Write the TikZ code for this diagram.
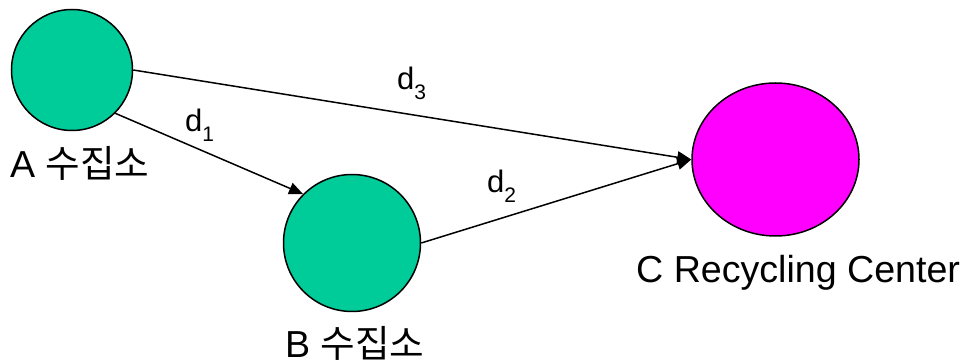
\documentclass[tikz,border=0pt]{standalone}
\usepackage{fontspec}
\setmainfont{Liberation Sans}
\newfontfamily\kr{Noto Sans CJK KR}
\usetikzlibrary{shapes.geometric,arrows.meta}
\definecolor{nodegreen}{HTML}{00CC99}
\definecolor{nodemag}{HTML}{FF00FF}
\tikzset{
  site/.style={circle,draw=black,line width=1.5pt,fill=nodegreen,inner sep=0pt},
  center/.style={ellipse,draw=black,line width=1.5pt,fill=nodemag,inner sep=0pt,minimum width=167pt,minimum height=153pt},
  lbl/.style={anchor=base west,inner sep=0pt,font=\fontsize{37.6}{40}\selectfont},
  dist/.style={anchor=base west,inner sep=0pt,font=\fontsize{31}{34}\selectfont},
  conn/.style={line width=1.5pt,-{Triangle[length=14pt,width=12pt]}}
}
\newcommand{\dsub}[1]{d\raisebox{-0.3em}{\fontsize{21}{22}\selectfont #1}}
\begin{document}
\begin{tikzpicture}[x=1pt,y=-1pt]
\useasboundingbox (0,0) rectangle (964,363);
\node[site,minimum size=121pt] (A) at (72,70) {};
\node[site,minimum size=137pt] (B) at (352,243) {};
\node[center] (C) at (775.5,159.5) {};
\node[lbl] (la) at (10,178) {A {\kr 수집소}};
\node[lbl] (lb) at (285,357) {B {\kr 수집소}};
\node[lbl] (lc) at (636,283) {C Recycling Center};
\draw[conn] (A.east) -- (C.west);
\draw[conn] (A.-45) -- (B.135);
\draw[conn] (B.east) -- (C.west);
\node[dist] (d1) at (185,132) {\dsub{1}};
\node[dist] (d3) at (397,90) {\dsub{3}};
\node[dist] (d2) at (487,193) {\dsub{2}};
\end{tikzpicture}
\end{document}
